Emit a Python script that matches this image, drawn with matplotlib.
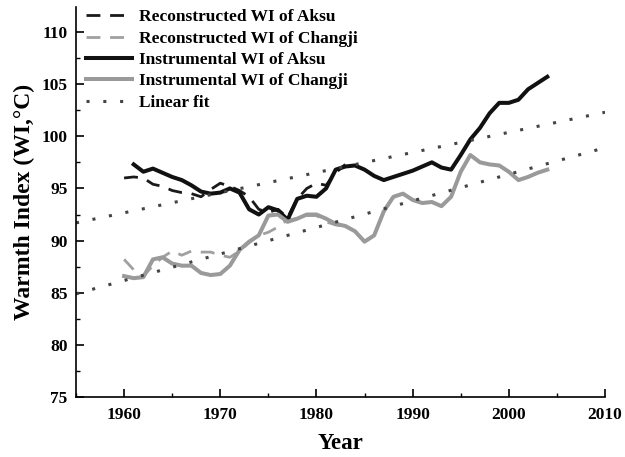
import numpy as np
import matplotlib
matplotlib.use('Agg')
import matplotlib.pyplot as plt
from matplotlib.ticker import MultipleLocator

plt.rcParams['font.family'] = ['Liberation Serif', 'DejaVu Serif']
plt.rcParams['font.weight'] = 'bold'

# instrumental series
years_aksu = list(range(1961, 2005))
aksu_inst = [97.3, 96.6, 96.9, 96.5, 96.1, 95.8, 95.3, 94.7, 94.5, 94.6,
             95.0, 94.6, 93.0, 92.5, 93.2, 92.9, 92.0, 94.0, 94.3, 94.2,
             95.0, 96.8, 97.1, 97.2, 96.8, 96.2, 95.8, 96.1, 96.4, 96.7,
             97.1, 97.5, 97.0, 96.8, 98.2, 99.7, 100.8, 102.2, 103.2, 103.2,
             103.5, 104.5, 105.1, 105.7]

years_changji = list(range(1960, 2005))
changji_inst = [86.6, 86.4, 86.5, 88.2, 88.4, 87.8, 87.6, 87.6, 86.9, 86.7,
                86.8, 87.6, 89.1, 89.9, 90.5, 92.4, 92.5, 91.8, 92.1, 92.5,
                92.5, 92.1, 91.6, 91.4, 90.9, 89.9, 90.5, 92.8, 94.2, 94.5,
                93.9, 93.6, 93.7, 93.3, 94.2, 96.6, 98.2, 97.5, 97.3, 97.2,
                96.6, 95.8, 96.1, 96.5, 96.8]

# reconstructed series
years_recon = list(range(1960, 1984))
aksu_recon = [96.0, 96.1, 96.0, 95.4, 95.2, 94.8, 94.6, 94.5, 94.2, 94.9,
              95.5, 95.2, 94.8, 94.2, 93.0, 92.7, 93.0, 92.2, 94.0, 95.0,
              95.5, 95.3, 96.5, 97.3]
changji_recon = [88.2, 87.2, 86.6, 87.6, 88.4, 89.0, 88.6, 89.0, 88.9, 88.9,
                 88.6, 88.4, 89.0, 89.8, 90.5, 90.8, 91.3, 92.0, 92.1, 92.4,
                 92.4, 91.8, 91.5, 91.4]

# linear fits (end points)
fit_years = [1955, 2010]
aksu_fit = [91.7, 102.3]
changji_fit = [84.9, 98.9]

fig = plt.figure(figsize=(6.25, 4.57), dpi=100)
ax = fig.add_axes([0.1216, 0.131, 0.8464, 0.854])

ax.plot(years_recon, aksu_recon, color='#1a1a1a', lw=2.0, ls=(0, (5, 3.5)),
        label='Reconstructed WI of Aksu')
ax.plot(years_recon, changji_recon, color='#a0a0a0', lw=2.0, ls=(0, (5, 3.5)),
        label='Reconstructed WI of Changji')
ax.plot(years_aksu, aksu_inst, color='#111111', lw=2.9,
        label='Instrumental WI of Aksu')
ax.plot(years_changji, changji_inst, color='#9a9a9a', lw=2.9,
        label='Instrumental WI of Changji')
ax.plot(fit_years, aksu_fit, color='#444444', lw=2.2, ls=(0, (1, 4.5)),
        label='Linear fit')
ax.plot(fit_years, changji_fit, color='#444444', lw=2.2, ls=(0, (1, 4.5)))

ax.set_xlim(1955, 2010)
ax.set_ylim(75, 112.4)
ax.xaxis.set_major_locator(MultipleLocator(10))
ax.xaxis.set_minor_locator(MultipleLocator(5))
ax.yaxis.set_major_locator(MultipleLocator(5))
ax.yaxis.set_minor_locator(MultipleLocator(2.5))
ax.set_xticks([1960, 1970, 1980, 1990, 2000, 2010])
ax.tick_params(which='major', direction='in', length=6, width=1.2, labelsize=12.5)
ax.tick_params(axis='x', which='major', pad=7)
ax.tick_params(axis='y', which='major', pad=6)
ax.tick_params(which='minor', direction='in', length=3, width=1.0)
ax.spines['top'].set_visible(False)
ax.spines['right'].set_visible(False)
ax.spines['left'].set_linewidth(1.2)
ax.spines['bottom'].set_linewidth(1.2)
for lab in ax.get_xticklabels() + ax.get_yticklabels():
    lab.set_fontweight('bold')

ax.set_xlabel('Year', fontsize=16.5, fontweight='bold', labelpad=7)
ax.set_ylabel('Warmth Index (WI,°C)', fontsize=17, fontweight='bold', labelpad=5)

ax.legend(loc='upper left', frameon=False, handlelength=2.7,
          handletextpad=0.35, labelspacing=0.3, borderaxespad=0.0,
          bbox_to_anchor=(0.005, 1.012), prop={'weight': 'bold', 'size': 12.5})

fig.savefig('out.png', dpi=100)
